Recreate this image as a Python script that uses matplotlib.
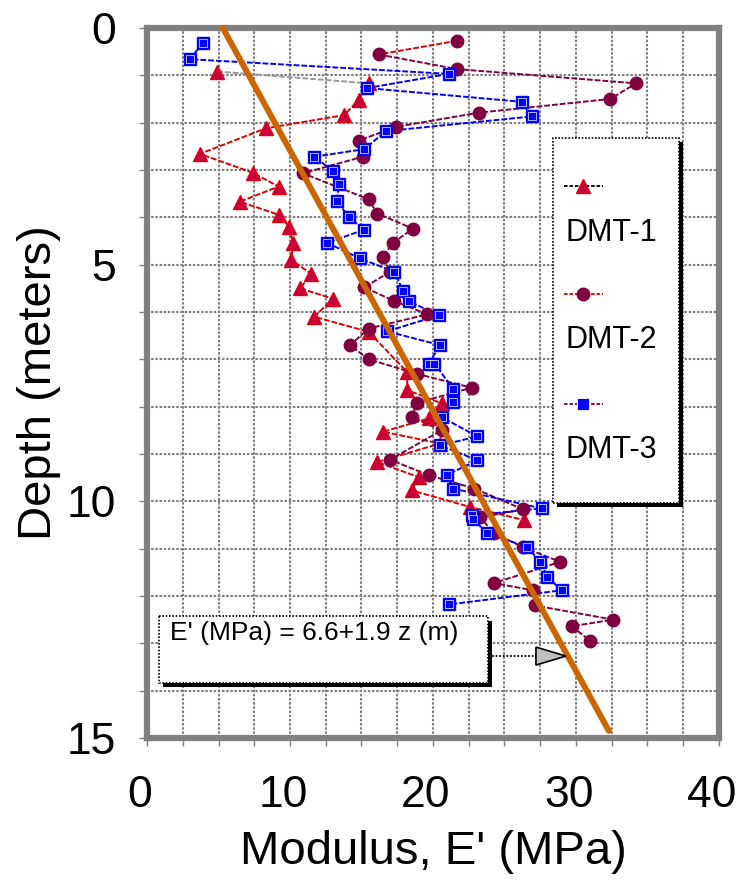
import numpy as np
import matplotlib
matplotlib.use('Agg')
import matplotlib.pyplot as plt
from matplotlib.patches import Rectangle, Polygon
from matplotlib.lines import Line2D
from matplotlib.transforms import ScaledTranslation

plt.rcParams['font.family'] = ['Liberation Sans', 'DejaVu Sans']

# DMT-1 (triangles): modulus (MPa) and depth (m)
E1 = [4.9, 15.5, 14.8, 13.8, 8.3, 3.7, 7.4, 9.2, 6.5, 9.25, 9.95, 10.2, 10.1, 11.5, 10.7,
      13.0, 11.7, 15.5, 18.2, 18.2, 20.6, 19.7, 16.5, 20.5, 16.1, 19.0, 18.5, 22.6, 26.4]
z1 = [0.92, 1.17, 1.52, 1.84, 2.12, 2.66, 3.06, 3.35, 3.67, 3.95, 4.2, 4.55, 4.9, 5.2, 5.5,
      5.72, 6.1, 6.42, 7.27, 7.65, 7.93, 8.25, 8.53, 8.78, 9.17, 9.49, 9.77, 10.12, 10.4]

# DMT-2 (circles)
E2 = [21.7, 16.2, 21.7, 34.2, 32.4, 23.2, 17.4, 14.8, 15.1, 10.9, 15.5, 16.1, 18.6, 17.2,
      16.5, 17.0, 15.2, 17.3, 19.6, 15.5, 14.2, 15.5, 18.9, 22.7, 18.9, 18.5, 20.6, 17.0,
      19.7, 22.9, 26.3, 23.3, 24.3, 26.3, 28.9, 24.25, 27.0, 27.1, 32.6, 29.7, 31.0]
z2 = [0.27, 0.56, 0.87, 1.17, 1.5, 1.79, 2.09, 2.38, 2.72, 3.07, 3.62, 3.92, 4.24, 4.54,
      4.83, 5.15, 5.48, 5.77, 6.05, 6.35, 6.7, 7.0, 7.31, 7.6, 7.92, 8.22, 8.5, 9.12,
      9.45, 9.73, 10.17, 10.34, 10.68, 10.97, 11.28, 11.73, 11.88, 12.2, 12.5, 12.64, 12.95]

# DMT-3 (squares)
E3 = [3.9, 3.0, 21.1, 15.4, 26.2, 26.9, 16.7, 15.2, 11.7, 13.0, 13.4, 13.3, 14.1, 15.2,
      12.6, 14.9, 17.3, 17.9, 18.3, 20.4, 16.8, 20.5, 19.7, 20.1, 21.4, 21.4, 20.6, 23.1,
      20.5, 23.1, 21.0, 21.4, 27.6, 22.7, 22.8, 23.8, 26.6, 27.5, 28.0, 29.0, 21.1]
z3 = [0.32, 0.66, 0.97, 1.27, 1.56, 1.87, 2.18, 2.56, 2.72, 3.02, 3.3, 3.65, 4.0, 4.26,
      4.54, 4.87, 5.15, 5.55, 5.77, 6.07, 6.41, 6.70, 7.09, 7.09, 7.62, 7.9, 8.22, 8.63,
      8.82, 9.13, 9.44, 9.73, 10.15, 10.3, 10.38, 10.67, 10.97, 11.28, 11.6, 11.88, 12.18]

# trend line as drawn
fit_E = [5.3, 32.3]
fit_z = [0.0, 14.85]

fit_label = "E' (MPa) = 6.6+1.9 z (m)"
names = ['DMT-1', 'DMT-2', 'DMT-3']

grey = '#808080'
dash = (0, (3, 1))

fig = plt.figure(figsize=(7.38, 8.82), dpi=100)
ax = fig.add_axes([0.1992, 0.1633, 0.775, 0.805])

ax.set_xlim(0, 40)
ax.set_ylim(15, 0)
ax.set_xticks([0, 10, 20, 30, 40])
ax.set_xticks(np.arange(0, 40.1, 2.5), minor=True)
ax.set_yticks([0, 5, 10, 15])
ax.set_yticks(np.arange(0, 15.1, 1), minor=True)
ax.set_axisbelow(True)
ax.grid(which='both', color=grey, ls=(0, (1.2, 0.8)), lw=1.5)
ax.tick_params(which='both', direction='out', length=6, width=1, color=grey)
ax.tick_params(axis='x', which='major', labelsize=32, pad=21)
ax.tick_params(axis='y', which='major', labelsize=32, pad=16)
for s in ax.spines.values():
    s.set_color(grey)
    s.set_linewidth(4.5)

# excel puts the x labels a bit left of the ticks
shift = ScaledTranslation(-7 / 100, 0, fig.dpi_scale_trans)
for lbl in ax.get_xticklabels():
    lbl.set_transform(lbl.get_transform() + shift)

ax.set_xlabel("Modulus, E' (MPa)", fontsize=34)
ax.xaxis.set_label_coords(0.5, -0.13)
ax.set_ylabel('Depth (meters)', fontsize=34)
ax.yaxis.set_label_coords(-0.15, 0.5)

# DMT-1
ax.plot(E1[:2], z1[:2], color='#999999', ls=dash, lw=1.4, zorder=2)
ax.plot(E1[1:], z1[1:], color='#DD0000', ls=dash, lw=1.4, zorder=2)
ax.plot(E1, z1, ls='none', marker='^', ms=10, mfc='#C8003C', mec='#E00010', mew=1, zorder=3)

# DMT-2
ax.plot(E2[:2], z2[:2], color='#DD0000', ls=dash, lw=1.4, zorder=2)
ax.plot(E2[1:], z2[1:], color='#800040', ls=dash, lw=1.4, zorder=2)
ax.plot(E2, z2, ls='none', marker='o', ms=9, mfc='#800040', mec='#800040', zorder=3)

# DMT-3
ax.plot(E3, z3, color='#0000FF', ls=dash, lw=1.4, zorder=2)
ax.plot(E3, z3, ls='none', marker='s', ms=8.5, mfc='#0000FF', mec='#0000FF', zorder=3)
ax.plot(E3, z3, ls='none', marker='s', ms=5.5, mfc='#0000FF', mec='white', mew=0.5, zorder=3)

# trend line
ax.plot(fit_E, fit_z, color='#CC6600', lw=4.3, solid_capstyle='round', zorder=4, clip_on=False)

# legend box (excel style, label under each symbol)
ax.add_patch(Rectangle((0.717, 0.325), 0.22, 0.514, transform=ax.transAxes,
                       fc='black', ec='none', zorder=5))
ax.add_patch(Rectangle((0.710, 0.331), 0.22, 0.514, transform=ax.transAxes,
                       fc='white', ec='black', ls=(0, (1, 1)), lw=1.2, zorder=6))
leg_line = ['black', '#DD0000', '#800040']
leg_mark = [dict(marker='^', ms=10, mfc='#C8003C', mec='#E00010'),
            dict(marker='o', ms=9, mfc='#800040', mec='#800040'),
            dict(marker='s', ms=8, mfc='#0000FF', mec='white', mew=0.6)]
for i, name in enumerate(names):
    yl = [0.777, 0.625, 0.470][i]
    yt = [0.711, 0.561, 0.406][i]
    ax.add_line(Line2D([0.729, 0.797], [yl, yl], transform=ax.transAxes, color=leg_line[i],
                       ls=(0, (2, 1)), lw=1.3, zorder=7))
    ax.add_line(Line2D([0.763], [yl], transform=ax.transAxes, ls='none', zorder=7, **leg_mark[i]))
    ax.text(0.732, yt, name, transform=ax.transAxes, fontsize=22, va='center', ha='left', zorder=7)

# equation box with arrow to the line
ax.add_patch(Rectangle((1.12, 12.52), 23.0, 1.4, fc='black', ec='none', zorder=5))
ax.add_patch(Rectangle((0.84, 12.43), 23.0, 1.4, fc='white', ec='black',
                       ls=(0, (1, 1)), lw=1.2, zorder=6))
ax.text(1.6, 12.53, fit_label, fontsize=19, va='top', ha='left', zorder=7)
ax.plot([24.1, 27.2], [13.27, 13.27], color='black', ls=(0, (1, 1)), lw=1.3, zorder=6)
ax.add_patch(Polygon([(27.2, 13.08), (29.3, 13.27), (27.2, 13.46)], closed=True,
                     fc='#C0C0C0', ec='black', lw=1.2, zorder=6))

fig.savefig('out.png', dpi=100)
